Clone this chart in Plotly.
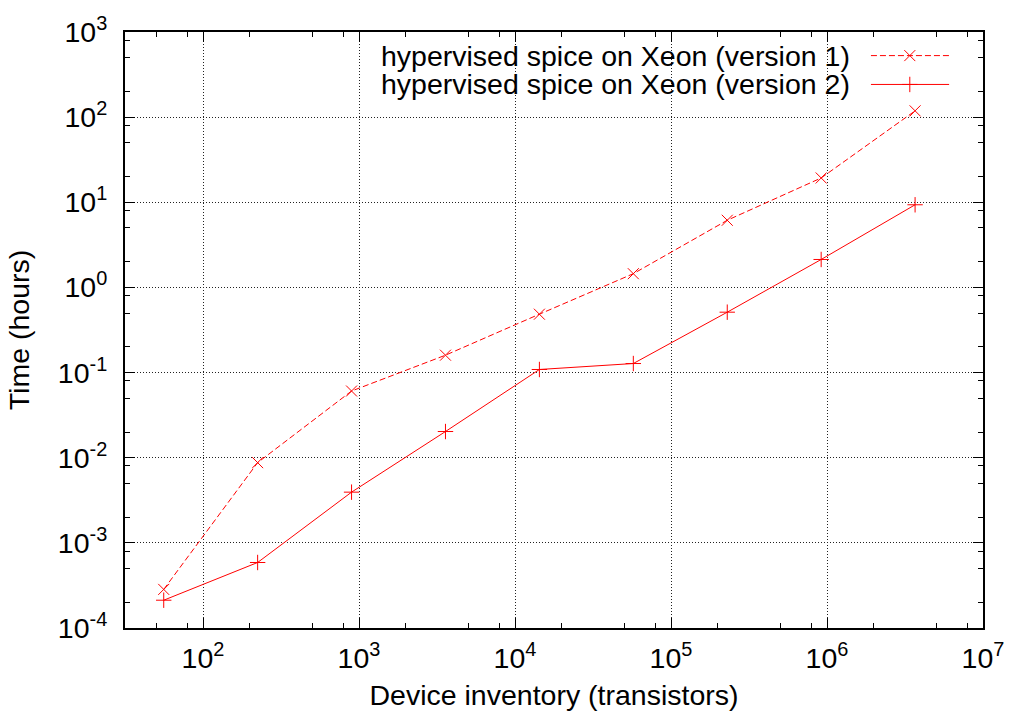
import plotly.graph_objects as go

# ---- data ----
transistors = [56, 224, 896, 3584, 14336, 57344, 229376, 917504, 3670016]
time_v1 = [2.84e-4, 8.75e-3, 0.0607, 0.160, 0.485, 1.45, 6.15, 19.3, 118.6]
time_v2 = [2.12e-4, 5.88e-4, 3.94e-3, 0.0203, 0.1087, 0.1277, 0.512, 2.13, 9.35]
series_names = ["hypervised spice on Xeon (version 1)", "hypervised spice on Xeon (version 2)"]

x_major = [1e2, 1e3, 1e4, 1e5, 1e6, 1e7]
x_major_text = ["10<sup>2</sup>", "10<sup>3</sup>", "10<sup>4</sup>", "10<sup>5</sup>", "10<sup>6</sup>", "10<sup>7</sup>"]
y_major = [1e-4, 1e-3, 1e-2, 1e-1, 1e0, 1e1, 1e2, 1e3]
y_major_text = ["10<sup>-4</sup>", "10<sup>-3</sup>", "10<sup>-2</sup>", "10<sup>-1</sup>",
                "10<sup>0</sup>", "10<sup>1</sup>", "10<sup>2</sup>", "10<sup>3</sup>"]
x_minor = [50, 80, 200, 500, 800, 2e3, 5e3, 8e3, 2e4, 5e4, 8e4, 2e5, 5e5, 8e5, 2e6, 5e6, 8e6]
y_minor = [2e-4, 5e-4, 8e-4, 2e-3, 5e-3, 8e-3, 2e-2, 5e-2, 8e-2, 0.2, 0.5, 0.8,
           2, 5, 8, 20, 50, 80, 200, 500, 800]

RED = "#ff0000"
FONT = "Liberation Sans"
FS = 28.5

def mk(symbol):
    return dict(symbol=symbol, size=11, color=RED, line=dict(color=RED, width=1))

fig = go.Figure()
fig.add_trace(go.Scatter(
    x=transistors, y=time_v1, mode="lines+markers", name=series_names[0],
    line=dict(color=RED, width=1, dash="6px,3px"), marker=mk("x-thin"),
    showlegend=False))
fig.add_trace(go.Scatter(
    x=transistors, y=time_v2, mode="lines+markers", name=series_names[1],
    line=dict(color=RED, width=1), marker=mk("cross-thin"),
    showlegend=False))

# legend samples (gnuplot style: text left, sample right)
leg_y = [0.9604, 0.912]
fig.add_trace(go.Scatter(x=[0.8694, 0.9605], y=[leg_y[0]] * 2, xaxis="x2", yaxis="y2",
                         mode="lines", line=dict(color=RED, width=1, dash="6px,3px"),
                         showlegend=False, hoverinfo="skip"))
fig.add_trace(go.Scatter(x=[0.9147], y=[leg_y[0]], xaxis="x2", yaxis="y2", mode="markers",
                         marker=mk("x-thin"), showlegend=False, hoverinfo="skip"))
fig.add_trace(go.Scatter(x=[0.8694, 0.9605], y=[leg_y[1]] * 2, xaxis="x2", yaxis="y2",
                         mode="lines", line=dict(color=RED, width=1),
                         showlegend=False, hoverinfo="skip"))
fig.add_trace(go.Scatter(x=[0.9147], y=[leg_y[1]], xaxis="x2", yaxis="y2", mode="markers",
                         marker=mk("cross-thin"), showlegend=False, hoverinfo="skip"))

for name, yy in zip(series_names, leg_y):
    fig.add_annotation(text=name, xref="paper", yref="paper", x=0.8465, y=yy,
                       xanchor="right", yanchor="middle", showarrow=False, borderpad=0,
                       font=dict(family=FONT, size=FS, color="black"))

fig.add_shape(type="rect", xref="paper", yref="paper", x0=0.285, x1=0.999, y0=0.8865, y1=0.999,
              fillcolor="white", line=dict(width=0), layer="between")

axis_common = dict(
    type="log", showline=True, linecolor="black", linewidth=2, mirror="allticks",
    ticks="inside", ticklen=10, tickwidth=1, tickcolor="black",
    showgrid=True, gridcolor="#222222", griddash="1px,2px", gridwidth=1,
    zeroline=False, tickfont=dict(family=FONT, size=FS, color="black"),
)

fig.update_layout(
    width=1016, height=720,
    margin=dict(l=125, r=30, t=29, b=92),
    paper_bgcolor="white", plot_bgcolor="white",
    font=dict(family=FONT, size=FS, color="black"),
    xaxis=dict(**axis_common, range=[1.5, 7], tickmode="array", tickvals=x_major,
               ticktext=x_major_text, ticklabelstandoff=4,
               minor=dict(tickmode="array", tickvals=x_minor, ticks="inside", ticklen=5,
                          tickcolor="black", showgrid=False),
               title=dict(text="Device inventory (transistors)", standoff=12,
                          font=dict(family=FONT, size=FS))),
    yaxis=dict(**axis_common, range=[-4, 3], tickmode="array", tickvals=y_major,
               ticktext=y_major_text, ticklabelstandoff=10,
               minor=dict(tickmode="array", tickvals=y_minor, ticks="inside", ticklen=5,
                          tickcolor="black", showgrid=False),
               title=dict(text="Time (hours)", standoff=20,
                          font=dict(family=FONT, size=FS))),
    xaxis2=dict(overlaying="x", range=[0, 1], visible=False, fixedrange=True),
    yaxis2=dict(overlaying="y", range=[0, 1], visible=False, fixedrange=True),
)

fig.write_html("out.html")
